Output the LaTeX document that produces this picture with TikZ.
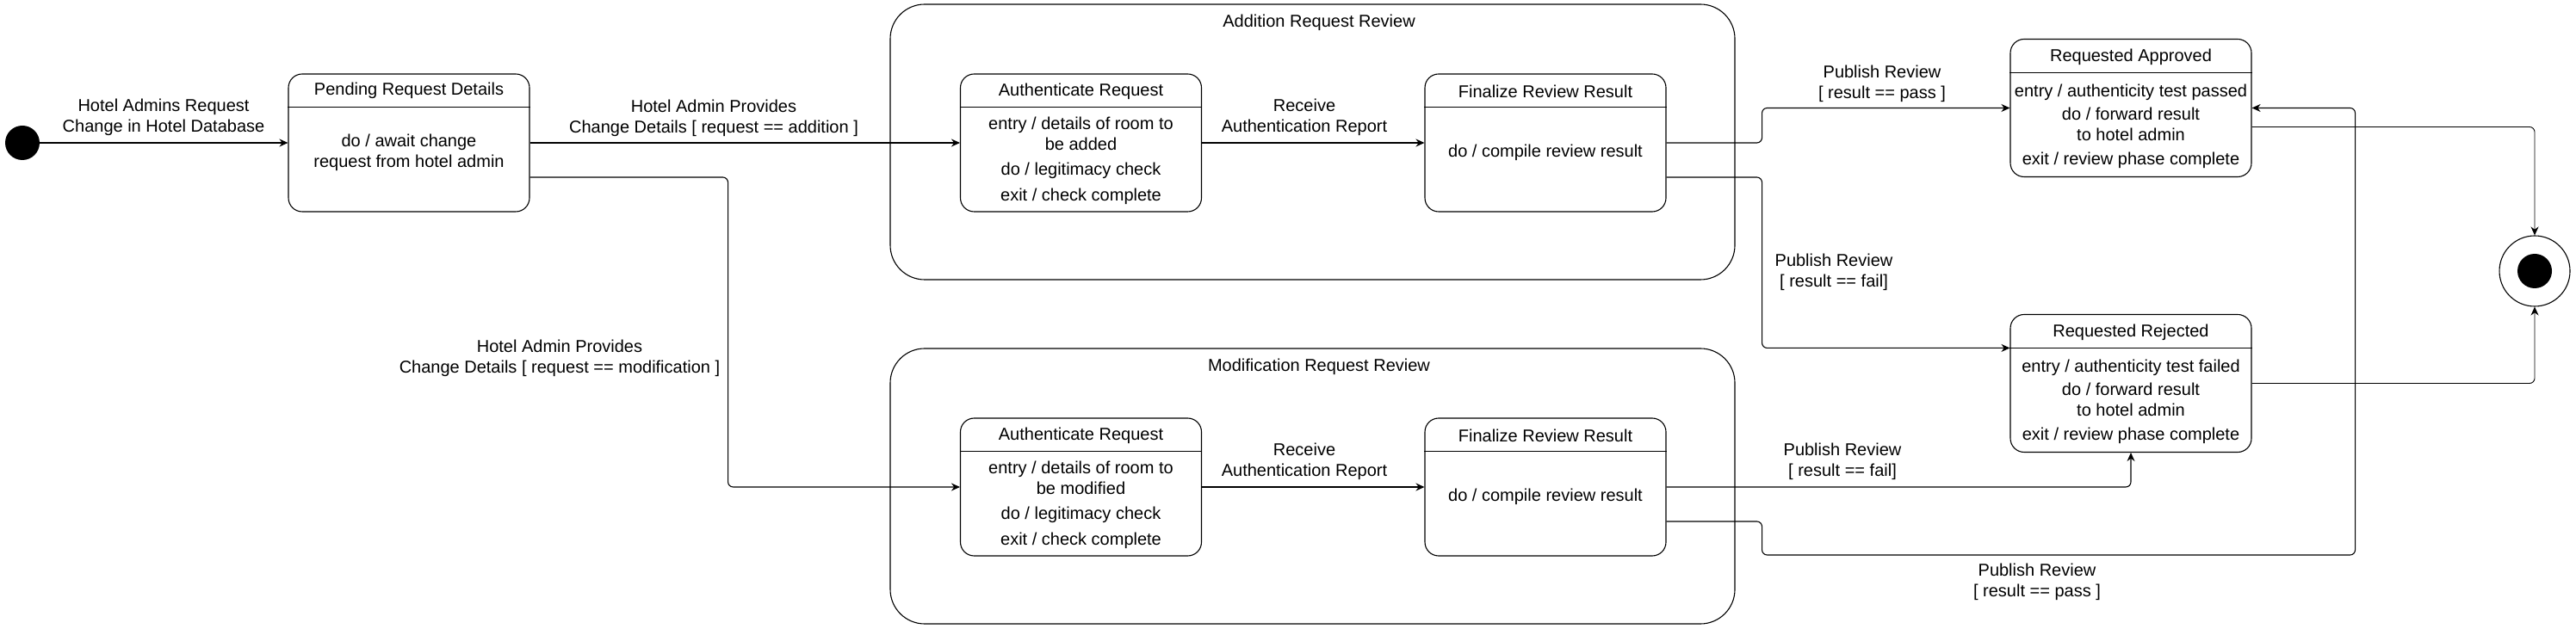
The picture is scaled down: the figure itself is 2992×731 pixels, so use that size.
\documentclass[tikz,border=0pt]{standalone}
\usepackage{fontspec}
\setmainfont{Liberation Sans}
\usetikzlibrary{arrows.meta,calc}
\tikzset{
  every node/.style={font=\fontsize{10pt}{12pt}\selectfont},
  statebox/.style={draw, rounded corners=8pt, minimum width=140pt, minimum height=80pt, line width=0.55pt, inner sep=0pt},
  compbox/.style={draw, rounded corners=20pt, minimum width=490.5pt, minimum height=160pt, line width=0.55pt, inner sep=0pt},
  txt/.style={align=center, inner sep=0pt},
  divline/.style={line width=0.55pt},
  conn/.style={draw, line width=0.55pt, rounded corners=3pt, -{Stealth[length=5pt,width=4.5pt]}},
  thinconn/.style={conn, line width=0.45pt}
}
\begin{document}
\begin{tikzpicture}[x=0.5pt, y=-0.5pt]
\useasboundingbox (0,0) rectangle (2992,731);

% composite states
\node[compbox] (compA) at (1524.5,165) {};
\node[txt] (compAT) at (1532,26) {Addition Request Review};
\node[compbox] (compM) at (1524.5,565) {};
\node[txt] (compMT) at (1532,426) {Modification Request Review};

% initial
\node[circle, fill=black, minimum size=20pt, inner sep=0pt] (init) at (26,166) {};

% pending
\node[statebox] (pend) at (475,166) {};
\draw[divline] ($(pend.north west)+(0,39)$) -- ($(pend.north east)+(0,39)$);
\node[txt] (pendT) at (475,105.5) {Pending Request Details};
\node[txt] (pendB) at (475,177) {do / await change\\request from hotel admin};

% addition review
\node[statebox] (authA) at (1255.5,166) {};
\draw[divline] ($(authA.north west)+(0,39)$) -- ($(authA.north east)+(0,39)$);
\node[txt] (authAT) at (1255.5,106.5) {Authenticate Request};
\node[txt] (authAB) at (1255.5,187) {entry / details of room to\\be added\\[2.5pt]do / legitimacy check\\[3pt]exit / check complete};

\node[statebox] (finA) at (1795,166) {};
\draw[divline] ($(finA.north west)+(0,39)$) -- ($(finA.north east)+(0,39)$);
\node[txt] (finAT) at (1795,106.5) {Finalize Review Result};
\node[txt] (finAB) at (1795,177) {do / compile review result};

% modification review
\node[statebox] (authM) at (1255.5,566) {};
\draw[divline] ($(authM.north west)+(0,39)$) -- ($(authM.north east)+(0,39)$);
\node[txt] (authMT) at (1255.5,506.5) {Authenticate Request};
\node[txt] (authMB) at (1255.5,587) {entry / details of room to\\be modified\\[2.5pt]do / legitimacy check\\[3pt]exit / check complete};

\node[statebox] (finM) at (1795,566) {};
\draw[divline] ($(finM.north west)+(0,39)$) -- ($(finM.north east)+(0,39)$);
\node[txt] (finMT) at (1795,506.5) {Finalize Review Result};
\node[txt] (finMB) at (1795,577) {do / compile review result};

% approved / rejected
\node[statebox] (appr) at (2475,125.5) {};
\draw[divline] ($(appr.north west)+(0,39.5)$) -- ($(appr.north east)+(0,39.5)$);
\node[txt] (apprT) at (2475,66) {Requested Approved};
\node[txt] (apprB) at (2475,146.5) {entry / authenticity test passed\\[1.5pt]do / forward result\\to hotel admin\\[2pt]exit / review phase complete};

\node[statebox] (rej) at (2475,445.5) {};
\coordinate (rejH) at ($(rej.north west)+(0,39.5)$);
\draw[divline] (rejH) -- ($(rej.north east)+(0,39.5)$);
\node[txt] (rejT) at (2475,386) {Requested Rejected};
\node[txt] (rejB) at (2475,466.5) {entry / authenticity test failed\\[1.5pt]do / forward result\\to hotel admin\\[2pt]exit / review phase complete};

% final
\node[circle, draw, line width=0.55pt, minimum size=41pt, inner sep=0pt] (final) at (2944,315) {};
\node[circle, fill=black, minimum size=20pt, inner sep=0pt] (finalIn) at (final.center) {};

% connectors
\draw[conn] (init) -- (pend.west);
\node[txt] (l1) at (190,136) {Hotel Admins Request\\Change in Hotel Database};

\draw[conn] (pend.east) -- (authA.west);
\node[txt] (l2) at (829,137) {Hotel Admin Provides\\Change Details [ request == addition ]};

\draw[conn] ($(pend.east)+(0,40)$) -- ++(230,0) |- (authM.west);
\node[txt] (l3) at (650,416) {Hotel Admin Provides\\Change Details [ request == modification ]};

\draw[conn] (authA.east) -- (finA.west);
\node[txt] (l4) at (1515,136) {Receive\\Authentication Report};

\draw[conn] (authM.east) -- (finM.west);
\node[txt] (l5) at (1515,536) {Receive\\Authentication Report};

\draw[conn] (finA.east) -- ++(111,0) |- (appr.west);
\node[txt] (l6) at (2186,97) {Publish Review\\{}[ result == pass ]};

\draw[conn] ($(finA.east)+(0,40)$) -- ++(111,0) |- (rejH);
\node[txt] (l7) at (2130,316) {Publish Review\\{}[ result == fail]};

\draw[conn] (finM.east) -| (rej.south);
\node[txt] (l8) at (2140,536) {Publish Review\\{}[ result == fail]};

\draw[conn] ($(finM.east)+(0,40)$) -- ++(111,0) -- ++(0,39) -- ++(689,0) |- (appr.east);
\node[txt] (l9) at (2366,676) {Publish Review\\{}[ result == pass ]};

\draw[thinconn] ($(appr.east)+(0,22)$) -| (final.north);
\draw[thinconn] (rej.east) -| (final.south);
\end{tikzpicture}
\end{document}
